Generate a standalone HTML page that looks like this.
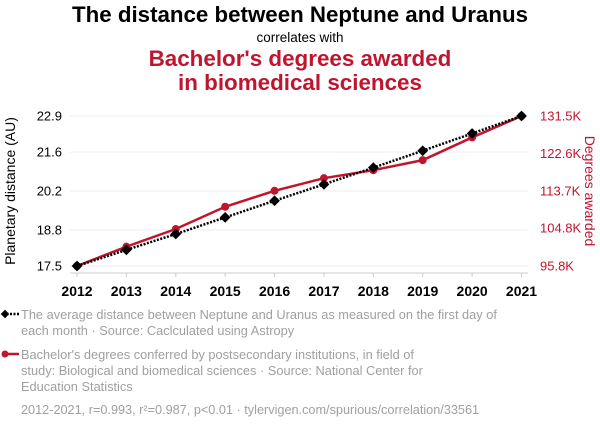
<!DOCTYPE html>
<html><head><meta charset="utf-8"><style>
body{margin:0;background:#fff;font-family:"Liberation Sans",sans-serif;}
svg{display:block}
</style></head><body>
<svg width="600" height="430" xmlns="http://www.w3.org/2000/svg" font-family="Liberation Sans, sans-serif">
<text x="300" y="22" text-anchor="middle" font-size="22.3" font-weight="bold" fill="#000">The distance between Neptune and Uranus</text>
<text x="300" y="42" text-anchor="middle" font-size="13.5" fill="#000">correlates with</text>
<text x="300" y="66" text-anchor="middle" font-size="22.4" font-weight="bold" fill="#c0152f">Bachelor's degrees awarded</text>
<text x="300" y="90" text-anchor="middle" font-size="22.4" font-weight="bold" fill="#c0152f">in biomedical sciences</text>
<g id="grid"></g><g id="axes"></g><g id="series"></g>
<text transform="translate(15,191) rotate(-90)" text-anchor="middle" font-size="14" fill="#000">Planetary distance (AU)</text>
<text transform="translate(585,191) rotate(90)" text-anchor="middle" font-size="14" fill="#c0152f">Degrees awarded</text>
<g>
<line x1="3" y1="314" x2="19" y2="314" stroke="#000" stroke-width="2.5" stroke-dasharray="2,1.5"/>
<rect x="2" y="311" width="6" height="6" transform="rotate(45 5 314)" fill="#000"/>
<text x="21" y="319" font-size="12.8" fill="#a0a0a0">The average distance between Neptune and Uranus as measured on the first day of</text>
<text x="21" y="335" font-size="12.8" fill="#a0a0a0">each month · Source: Caclculated using Astropy</text>
</g>
<g>
<line x1="3" y1="354" x2="19" y2="354" stroke="#c0152f" stroke-width="2.5"/>
<circle cx="5" cy="354" r="3.5" fill="#c0152f"/>
<text x="21" y="359" font-size="12.8" fill="#a0a0a0">Bachelor's degrees conferred by postsecondary institutions, in field of</text>
<text x="21" y="375" font-size="12.8" fill="#a0a0a0">study: Biological and biomedical sciences · Source: National Center for</text>
<text x="21" y="391" font-size="12.8" fill="#a0a0a0">Education Statistics</text>
</g>
<text x="21" y="414" font-size="12.7" fill="#a0a0a0">2012-2021, r=0.993, r²=0.987, p&lt;0.01 · tylervigen.com/spurious/correlation/33561</text>
</svg>
<script>
const years=[2012,2013,2014,2015,2016,2017,2018,2019,2020,2021];
const distance=[17.5,18.08,18.65,19.25,19.85,20.44,21.04,21.65,22.27,22.9];
const degrees=[95.8,100.4,104.6,109.9,113.7,116.7,118.6,121.0,126.4,131.5];
const leftTicks=[17.5,18.8,20.2,21.6,22.9];
const rightTicks=[95.8,104.8,113.7,122.6,131.5];
const NS="http://www.w3.org/2000/svg";
const X0=77,X1=521.5,Y0=266,Y1=116;
const x=y=>X0+(y-years[0])/(years[years.length-1]-years[0])*(X1-X0);
const yL=v=>Y0-(v-17.5)/(22.9-17.5)*(Y0-Y1);
const yR=v=>Y0-(v-95.8)/(131.5-95.8)*(Y0-Y1);
function mk(t,a,p){const e=document.createElementNS(NS,t);for(const k in a)e.setAttribute(k,a[k]);p.appendChild(e);return e;}
const grid=document.getElementById('grid'),axes=document.getElementById('axes'),ser=document.getElementById('series');
leftTicks.forEach((v,i)=>{
 const g=mk('line',{x1:70,x2:528,y1:yL(v),y2:yL(v),stroke:'#eee','stroke-width':1},grid);
 
 
 const t=mk('text',{x:62,y:yL(v)+4.5,'text-anchor':'end','font-size':13,fill:'#000'},axes);
 t.textContent=v.toFixed(1);
 
 
 const r=mk('text',{x:540,y:yR(rightTicks[i])+4.5,'font-size':13,fill:'#c0152f'},axes);
 r.textContent=rightTicks[i].toFixed(1)+'K';
 
 
});
const ax=mk('line',{x1:70,x2:528,y1:273,y2:273,stroke:'#ccc','stroke-width':1},axes);


years.forEach(yr=>{
 mk('line',{x1:x(yr),x2:x(yr),y1:273,y2:277,stroke:'#ccc'},axes);
 const t=mk('text',{x:x(yr),y:296,'text-anchor':'middle','font-size':14,'font-weight':'bold',fill:'#000'},axes);
 t.textContent=yr;
 
 
});
const rp=mk('polyline',{points:years.map((yr,i)=>x(yr)+','+yR(degrees[i])).join(' '),fill:'none',stroke:'#c0152f','stroke-width':2.5},ser);


years.forEach((yr,i)=>{
 const c=mk('circle',{cx:x(yr),cy:yR(degrees[i]),r:4,fill:'#c0152f'},ser);
 
 
});
const bp=mk('polyline',{points:years.map((yr,i)=>x(yr)+','+yL(distance[i])).join(' '),fill:'none',stroke:'#000','stroke-width':2.5,'stroke-dasharray':'2,1.5'},ser);


years.forEach((yr,i)=>{
 const cx=x(yr),cy=yL(distance[i]);
 const d=mk('rect',{x:cx-3.8,y:cy-3.8,width:7.6,height:7.6,transform:`rotate(45 ${cx} ${cy})`,fill:'#000'},ser);
 
 
});
</script>
</body></html>
